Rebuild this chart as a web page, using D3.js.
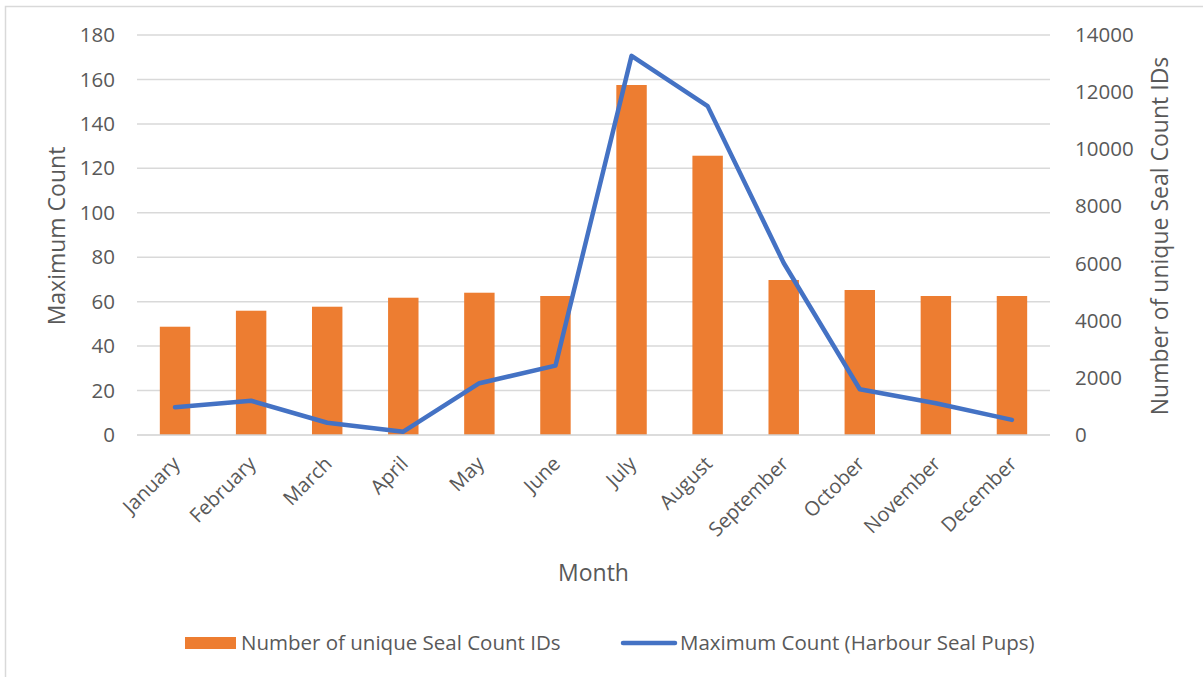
<!DOCTYPE html>
<html>
<head>
<meta charset="utf-8">
<script src="https://cdn.jsdelivr.net/npm/d3@7"></script>
<style>
  html, body { margin: 0; padding: 0; background: #fff; }
  svg { display: block; }
  text { font-family: "Open Sans", "Noto Sans", sans-serif; fill: #595959; }
</style>
</head>
<body>
<svg id="chart" width="1203" height="677"></svg>
<script>
// Monthly seal survey summary
const months = ["January", "February", "March", "April", "May", "June",
                "July", "August", "September", "October", "November", "December"];
// Number of unique Seal Count IDs (right axis, bars)
const uniqueIds = [3790, 4350, 4490, 4805, 4980, 4865, 12250, 9775, 5425, 5075, 4865, 4865];
// Maximum Count of harbour seal pups (left axis, line)
const maxCount = [12.5, 15.4, 5.5, 1.5, 23.3, 31.2, 170.6, 148, 77.4, 20.6, 14.3, 6.8];
const leftTicks = [0, 20, 40, 60, 80, 100, 120, 140, 160, 180];
const rightTicks = [0, 2000, 4000, 6000, 8000, 10000, 12000, 14000];

const svg = d3.select("#chart");
const plot = { left: 137, right: 1050, top: 35, bottom: 435 };

// chart frame
svg.append("path")
  .attr("d", `M5.5,677 L5.5,6.5 L1203,6.5`)
  .attr("fill", "none").attr("stroke", "#d9d9d9").attr("stroke-width", 1.5);

const x = d3.scaleBand().domain(months).range([plot.left, plot.right]).paddingInner(0.6).paddingOuter(0.3);
const yL = d3.scaleLinear().domain([0, 180]).range([plot.bottom, plot.top]);
const yR = d3.scaleLinear().domain([0, 14000]).range([plot.bottom, plot.top]);

// gridlines
svg.append("g").selectAll("line").data(leftTicks.filter(d => d > 0)).join("line")
  .attr("x1", plot.left).attr("x2", plot.right)
  .attr("y1", d => yL(d)).attr("y2", d => yL(d))
  .attr("stroke", "#d9d9d9").attr("stroke-width", 1.5);

// bars
svg.append("g").selectAll("rect").data(months).join("rect")
  .attr("x", d => x(d))
  .attr("width", x.bandwidth())
  .attr("y", (d, i) => yR(uniqueIds[i]))
  .attr("height", (d, i) => plot.bottom - yR(uniqueIds[i]))
  .attr("fill", "#ed7d31");

// baseline
svg.append("line")
  .attr("x1", plot.left).attr("x2", plot.right)
  .attr("y1", plot.bottom).attr("y2", plot.bottom)
  .attr("stroke", "#d0d0d0").attr("stroke-width", 1.5);

// line series
const line = d3.line()
  .x((d, i) => x(months[i]) + x.bandwidth() / 2)
  .y(d => yL(d));
svg.append("path").datum(maxCount)
  .attr("d", line)
  .attr("fill", "none").attr("stroke", "#4472c4")
  .attr("stroke-width", 4.5).attr("stroke-linejoin", "round").attr("stroke-linecap", "round");

// left axis
const axL = svg.append("g").attr("transform", `translate(${plot.left},0)`)
  .call(d3.axisLeft(yL).tickValues(leftTicks).tickSize(0).tickPadding(22));
axL.select(".domain").remove();
axL.selectAll("text").style("font-size", "20.5px").attr("fill", "#595959");

// right axis
const axR = svg.append("g").attr("transform", `translate(${plot.right},0)`)
  .call(d3.axisRight(yR).tickValues(rightTicks).tickFormat(d3.format("d")).tickSize(0).tickPadding(25));
axR.select(".domain").remove();
axR.selectAll("text").style("font-size", "20.5px").attr("fill", "#595959");

// month labels
svg.append("g").selectAll("text").data(months).join("text")
  .attr("transform", d => `translate(${x(d) + x.bandwidth() / 2 + 6},${plot.bottom + 30}) rotate(-45)`)
  .attr("text-anchor", "end")
  .style("font-size", "20px")
  .text(d => d);

// axis titles
svg.append("text")
  .attr("transform", `translate(65,${(plot.top + plot.bottom) / 2 + 1}) rotate(-90)`)
  .attr("text-anchor", "middle").style("font-size", "23px")
  .text("Maximum Count");
svg.append("text")
  .attr("transform", `translate(1168,${(plot.top + plot.bottom) / 2 + 1}) rotate(-90)`)
  .attr("text-anchor", "middle").style("font-size", "23px")
  .text("Number of unique Seal Count IDs");
svg.append("text")
  .attr("x", (plot.left + plot.right) / 2).attr("y", 581)
  .attr("text-anchor", "middle").style("font-size", "23px")
  .text("Month");

// legend
const lg = svg.append("g");
lg.append("rect").attr("x", 185).attr("y", 637).attr("width", 51).attr("height", 12).attr("fill", "#ed7d31");
lg.append("text").attr("x", 241).attr("y", 650).style("font-size", "20.5px").text("Number of unique Seal Count IDs");
lg.append("line").attr("x1", 623).attr("x2", 675).attr("y1", 643).attr("y2", 643)
  .attr("stroke", "#4472c4").attr("stroke-width", 4.5).attr("stroke-linecap", "round");
lg.append("text").attr("x", 680).attr("y", 650).style("font-size", "20.5px").text("Maximum Count (Harbour Seal Pups)");
</script>
</body>
</html>
